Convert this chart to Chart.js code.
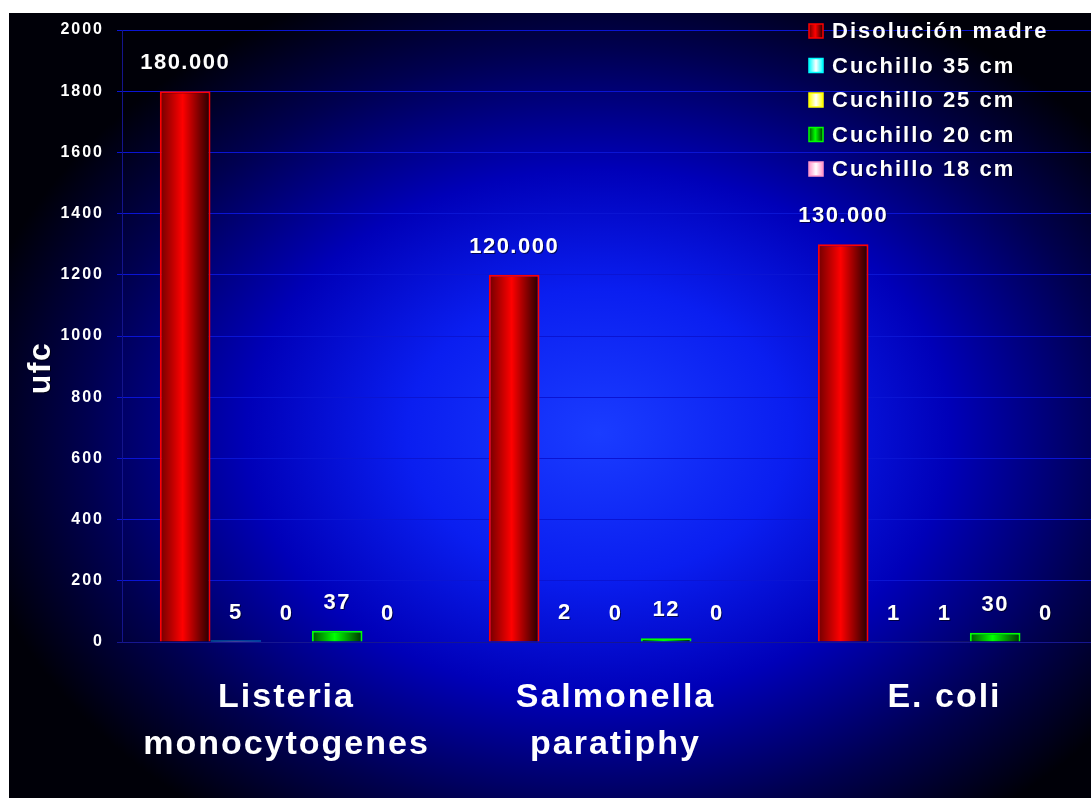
<!DOCTYPE html>
<html>
<head>
<meta charset="utf-8">
<script src="https://cdn.jsdelivr.net/npm/chart.js@4"></script>
<style>
  html, body { margin: 0; padding: 0; background: #fff; overflow: hidden; }
  #wrap { position: absolute; left: 9px; top: 13px; width: 1082px; height: 785px; overflow: hidden; }
</style>
</head>
<body>
<div id="wrap"><canvas id="myChart" width="1100" height="785"></canvas></div>
<script>
// categorías y series (ufc)
const categorias = [['Listeria', 'monocytogenes'], ['Salmonella', 'paratiphy'], 'E. coli'];
const nombres = ['Disolución madre', 'Cuchillo 35 cm', 'Cuchillo 25 cm', 'Cuchillo 20 cm', 'Cuchillo 18 cm'];
const colores = ['#ff0000', '#00ffff', '#ffff00', '#00ff00', '#ff99cc'];
const madre = [1800, 1200, 1300];
const etiquetasMadre = ['180.000', '120.000', '130.000'];
const cuchillo35 = [5, 2, 1];
const cuchillo25 = [0, 0, 1];
const cuchillo20 = [37, 12, 30];
const cuchillo18 = [0, 0, 0];
const yTicks = [0, 200, 400, 600, 800, 1000, 1200, 1400, 1600, 1800, 2000];

const series = [madre, cuchillo35, cuchillo25, cuchillo20, cuchillo18];

// colores claros van con brillo blanco, los oscuros con sombra
function relleno(ctx, col, x0, x1) {
  let g = ctx.createLinearGradient(x0, 0, x1, 0);
  if (col == '#ff0000') {
    g.addColorStop(0, '#700000'); g.addColorStop(0.45, '#ff0000'); g.addColorStop(1, '#200000');
  } else if (col == '#00ff00') {
    g.addColorStop(0, '#005000'); g.addColorStop(0.45, '#00ff00'); g.addColorStop(1, '#003000');
  } else {
    g.addColorStop(0, col); g.addColorStop(0.5, '#ffffff'); g.addColorStop(1, col);
  }
  return g;
}

const fondo = {
  id: 'fondo',
  beforeDraw(chart) {
    const c = chart.ctx;
    c.letterSpacing = '2px';
    c.save();
    c.translate(590, 420);
    c.scale(1, 0.75);
    let g = c.createRadialGradient(0, 0, 0, 0, 0, 640);
    g.addColorStop(0, '#1a3cff');
    g.addColorStop(0.3, '#0a1ef0');
    g.addColorStop(0.55, '#0000b8');
    g.addColorStop(0.8, '#000050');
    g.addColorStop(1, '#000008');
    c.fillStyle = g;
    c.fillRect(-700, -700, 1400, 1400);
    c.restore();
  }
};

const barras = {
  id: 'barras',
  beforeDatasetsDraw(chart) {
    chart.data.datasets.forEach((ds, i) => {
      chart.getDatasetMeta(i).data.forEach(el => {
        const p = el.getProps(['x', 'width'], true);
        el.options.backgroundColor = relleno(chart.ctx, colores[i], p.x - p.width / 2, p.x + p.width / 2);
      });
    });
  }
};

const textos = {
  id: 'textos',
  afterDraw(chart) {
    const c = chart.ctx;
    c.save();
    c.letterSpacing = '1.5px';
    c.fillStyle = '#fff';
    c.textAlign = 'center';
    c.textBaseline = 'middle';
    c.shadowColor = 'rgba(0,0,0,0.6)';
    c.shadowOffsetX = 1;
    c.shadowOffsetY = 1;
    c.font = 'bold 22px Arial, "Liberation Sans"';
    chart.data.datasets.forEach((ds, i) => {
      chart.getDatasetMeta(i).data.forEach((el, j) => {
        const txt = i == 0 ? etiquetasMadre[j] : String(series[i][j]);
        c.fillText(txt, el.x, el.y - 28);
      });
    });

    // título del eje
    c.save();
    c.font = 'bold 32px Arial, "Liberation Sans"';
    c.translate(32, 355);
    c.rotate(-Math.PI / 2);
    c.fillText('ufc', 0, 0);
    c.restore();

    // leyenda
    c.letterSpacing = '2px';
    c.font = 'bold 22px Arial, "Liberation Sans"';
    c.textAlign = 'left';
    for (let i = 0; i < nombres.length; i++) {
      const y = 18 + i * 34.5;
      c.shadowColor = 'transparent';
      c.fillStyle = relleno(c, colores[i], 800, 814);
      c.fillRect(800, y - 7, 14, 14);
      c.strokeStyle = colores[i];
      c.lineWidth = 1.5;
      c.strokeRect(800, y - 7, 14, 14);
      c.shadowColor = 'rgba(0,0,0,0.6)';
      c.fillStyle = '#fff';
      c.fillText(nombres[i], 823, y + 1);
    }
    c.restore();
  }
};

const data = {
  labels: categorias,
  datasets: nombres.map((n, i) => ({
    label: n,
    data: series[i],
    backgroundColor: () => colores[i],
    borderColor: colores[i],
    borderWidth: 2,
    categoryPercentage: 0.77,
    barPercentage: 1.0
  }))
};

const config = {
  type: 'bar',
  data: data,
  options: {
    responsive: false,
    animation: false,
    devicePixelRatio: 1,
    layout: { padding: { top: 17, left: 0, right: 0, bottom: 0 } },
    plugins: { legend: { display: false }, tooltip: { enabled: false } },
    scales: {
      x: {
        grid: { display: false, drawTicks: false },
        border: { display: false },
        ticks: {
          color: '#fff',
          font: { family: 'Arial, "Liberation Sans"', size: 34, weight: 'bold', lineHeight: 1.38 },
          padding: 32,
          maxRotation: 0,
          autoSkip: false
        },
        afterFit: s => { s.height = 156; }
      },
      y: {
        min: 0,
        max: 2000,
        afterBuildTicks: s => { s.ticks = yTicks.map(v => ({ value: v })); },
        grid: {
          color: c => c.index == 0 ? '#161690' : '#0a14d4',
          lineWidth: 1,
          tickLength: 5
        },
        border: { display: true, color: '#14148c' },
        ticks: {
          color: '#fff',
          font: { family: 'Arial, "Liberation Sans"', size: 16, weight: 'bold' },
          padding: 13,
          callback: v => String(v)
        },
        afterFit: s => { s.width = 113; s.paddingTop = 0; s.paddingBottom = 0; }
      }
    }
  },
  plugins: [fondo, barras, textos]
};

const myChart = new Chart(document.getElementById('myChart'), config);
</script>
</body>
</html>
